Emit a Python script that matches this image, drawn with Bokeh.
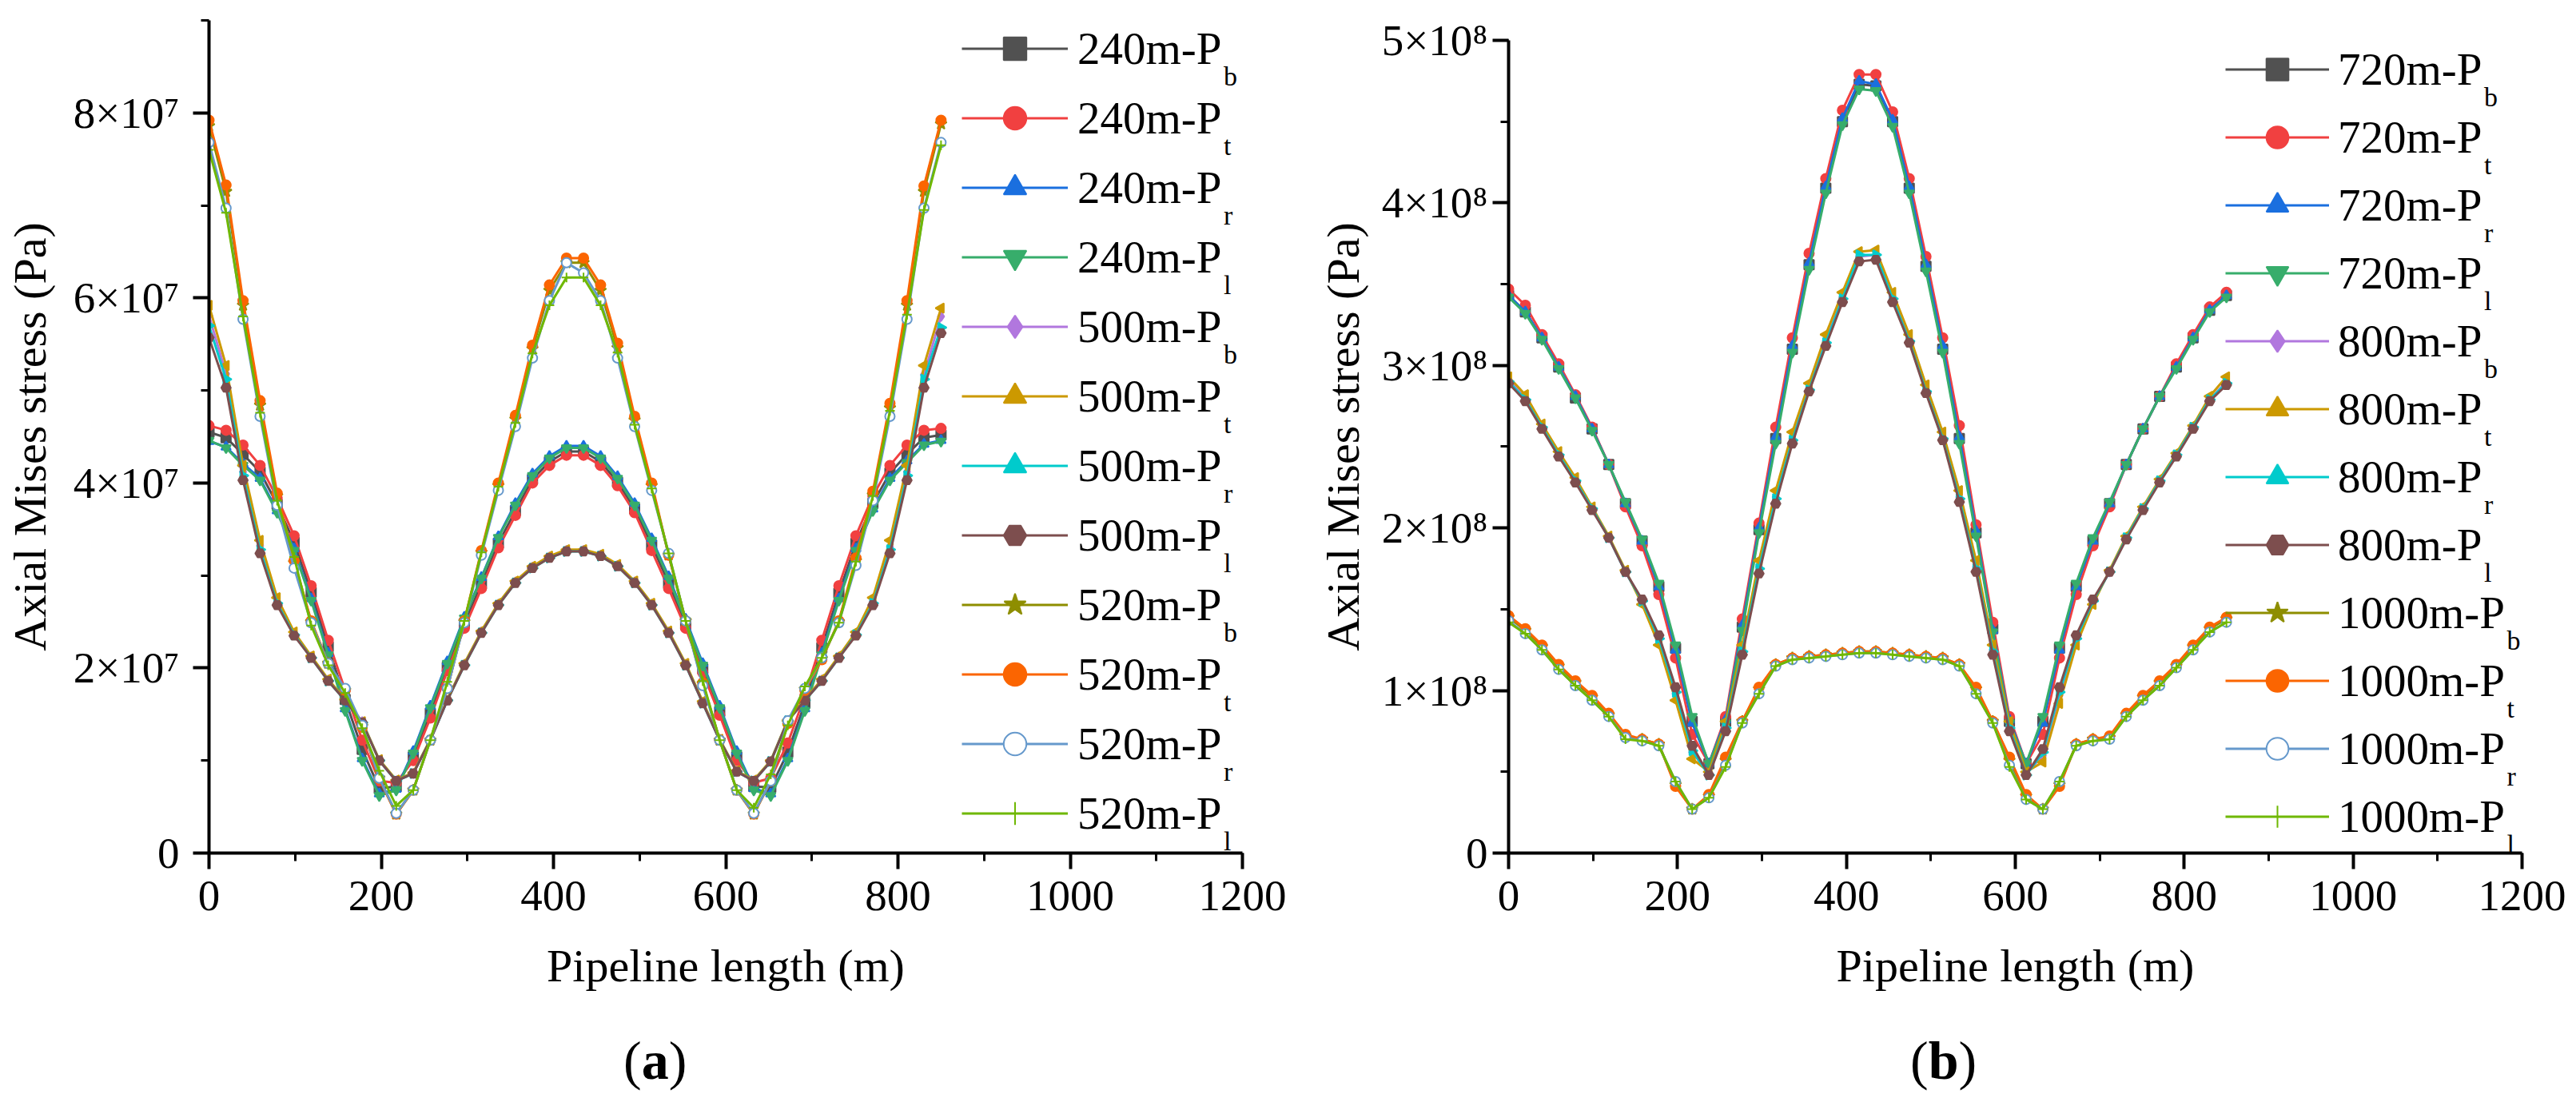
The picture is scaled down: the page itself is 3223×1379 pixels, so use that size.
import numpy as np
from math import pi
from bokeh.plotting import figure
from bokeh.layouts import row, column
from bokeh.models import Range1d, SingleIntervalTicker, Legend, LegendItem, Label, Div
from bokeh.embed import file_html
from bokeh.resources import INLINE

# sample points along the pipeline (m)
x_pos = [0.0, 19.8, 39.5, 59.3, 79.1, 98.8, 118.6, 138.4, 158.1, 177.9, 197.7,
         217.4, 237.2, 257.0, 276.7, 296.5, 316.3, 336.0, 355.8, 375.6, 395.3,
         415.1, 434.9, 454.7, 474.4, 494.2, 514.0, 533.7, 553.5, 573.3, 593.0,
         612.8, 632.6, 652.3, 672.1, 691.9, 711.6, 731.4, 751.2, 770.9, 790.7,
         810.5, 830.2, 850.0]

# ---- panel (a): axial Mises stress, in units of 1e7 Pa ----
a_240_pb = [4.55, 4.49, 4.31, 4.12, 3.77, 3.36, 2.82, 2.23, 1.66, 1.12, 0.70, 0.72, 1.04, 1.51, 2.01,
            2.48, 2.91, 3.35, 3.70, 4.04, 4.23, 4.34, 4.34, 4.23, 4.01, 3.72, 3.33, 2.92, 2.47, 1.99,
            1.53, 1.04, 0.72, 0.71, 1.09, 1.62, 2.22, 2.81, 3.35, 3.78, 4.11, 4.31, 4.49, 4.52]
a_240_pt = [4.62, 4.57, 4.41, 4.19, 3.84, 3.43, 2.89, 2.30, 1.76, 1.22, 0.78, 0.76, 1.00, 1.46, 1.97,
            2.43, 2.86, 3.30, 3.65, 4.00, 4.19, 4.30, 4.30, 4.19, 3.97, 3.68, 3.27, 2.86, 2.43, 1.95,
            1.49, 1.00, 0.76, 0.81, 1.19, 1.70, 2.30, 2.89, 3.43, 3.86, 4.19, 4.41, 4.57, 4.59]
a_240_pr = [4.45, 4.39, 4.21, 4.05, 3.70, 3.29, 2.75, 2.16, 1.56, 1.02, 0.64, 0.69, 1.10, 1.59, 2.07,
            2.55, 2.98, 3.42, 3.78, 4.10, 4.29, 4.40, 4.40, 4.29, 4.07, 3.78, 3.40, 2.99, 2.53, 2.05,
            1.59, 1.10, 0.70, 0.64, 1.02, 1.56, 2.16, 2.75, 3.29, 3.72, 4.05, 4.24, 4.42, 4.46]
a_240_pl = [4.46, 4.38, 4.19, 4.03, 3.68, 3.27, 2.73, 2.14, 1.54, 1.00, 0.62, 0.68, 1.08, 1.57, 2.05,
            2.54, 2.97, 3.41, 3.76, 4.08, 4.27, 4.38, 4.38, 4.27, 4.05, 3.76, 3.38, 2.97, 2.51, 2.03,
            1.57, 1.08, 0.68, 0.62, 1.00, 1.54, 2.14, 2.73, 3.27, 3.70, 4.03, 4.22, 4.41, 4.45]
a_500_pb = [5.81, 5.18, 4.12, 3.32, 2.72, 2.37, 2.12, 1.87, 1.66, 1.42, 1.00, 0.78, 0.86, 1.22, 1.65,
            2.04, 2.39, 2.69, 2.93, 3.09, 3.20, 3.27, 3.27, 3.22, 3.11, 2.93, 2.69, 2.39, 2.04, 1.63,
            1.22, 0.88, 0.78, 0.99, 1.43, 1.66, 1.87, 2.12, 2.37, 2.72, 3.31, 4.12, 5.17, 5.80]
a_500_pt = [5.92, 5.27, 4.19, 3.38, 2.76, 2.39, 2.13, 1.88, 1.66, 1.42, 1.01, 0.79, 0.87, 1.23, 1.66,
            2.05, 2.40, 2.70, 2.94, 3.10, 3.21, 3.28, 3.28, 3.23, 3.12, 2.94, 2.70, 2.40, 2.05, 1.64,
            1.23, 0.89, 0.79, 1.00, 1.44, 1.66, 1.88, 2.13, 2.39, 2.76, 3.38, 4.19, 5.27, 5.89]
a_500_pr = [5.70, 5.12, 4.08, 3.28, 2.70, 2.36, 2.11, 1.86, 1.65, 1.41, 1.00, 0.78, 0.86, 1.22, 1.65,
            2.03, 2.38, 2.68, 2.92, 3.08, 3.19, 3.26, 3.26, 3.21, 3.10, 2.92, 2.68, 2.38, 2.03, 1.62,
            1.22, 0.88, 0.78, 0.99, 1.43, 1.65, 1.86, 2.11, 2.36, 2.70, 3.28, 4.08, 5.12, 5.68]
a_500_pl = [5.57, 5.03, 4.03, 3.24, 2.68, 2.35, 2.11, 1.86, 1.65, 1.41, 1.00, 0.78, 0.86, 1.22, 1.65,
            2.03, 2.38, 2.68, 2.92, 3.08, 3.19, 3.26, 3.26, 3.21, 3.10, 2.92, 2.68, 2.38, 2.03, 1.62,
            1.22, 0.88, 0.78, 0.99, 1.43, 1.65, 1.86, 2.11, 2.35, 2.68, 3.24, 4.03, 5.03, 5.62]
a_520_pb = [7.86, 7.15, 5.92, 4.84, 3.86, 3.14, 2.50, 2.05, 1.76, 1.37, 0.81, 0.42, 0.68, 1.22, 1.78,
            2.50, 3.25, 3.97, 4.69, 5.45, 6.08, 6.38, 6.38, 6.08, 5.46, 4.68, 3.97, 3.22, 2.51, 1.83,
            1.22, 0.68, 0.42, 0.78, 1.41, 1.77, 2.10, 2.50, 3.16, 3.87, 4.81, 5.92, 7.15, 7.88]
a_520_pt = [7.92, 7.22, 5.97, 4.89, 3.89, 3.16, 2.51, 2.05, 1.76, 1.36, 0.80, 0.42, 0.68, 1.22, 1.78,
            2.51, 3.27, 4.00, 4.73, 5.49, 6.14, 6.43, 6.43, 6.14, 5.51, 4.72, 4.00, 3.22, 2.51, 1.84,
            1.22, 0.68, 0.42, 0.78, 1.40, 1.76, 2.09, 2.51, 3.19, 3.91, 4.86, 5.97, 7.21, 7.92]
a_520_pr = [7.68, 6.97, 5.77, 4.72, 3.76, 3.08, 2.49, 2.05, 1.78, 1.38, 0.81, 0.43, 0.68, 1.22, 1.78,
            2.49, 3.22, 3.92, 4.61, 5.35, 5.97, 6.38, 6.27, 5.97, 5.35, 4.61, 3.92, 3.24, 2.51, 1.81,
            1.22, 0.68, 0.43, 0.78, 1.43, 1.78, 2.11, 2.49, 3.11, 3.81, 4.72, 5.77, 6.97, 7.68]
a_520_pl = [7.60, 6.92, 5.80, 4.76, 3.81, 3.20, 2.46, 2.03, 1.73, 1.35, 0.89, 0.51, 0.68, 1.22, 1.85,
            2.51, 3.25, 3.96, 4.65, 5.40, 5.92, 6.22, 6.22, 5.92, 5.41, 4.63, 3.94, 3.24, 2.51, 1.86,
            1.22, 0.68, 0.49, 0.85, 1.38, 1.80, 2.11, 2.49, 3.15, 3.86, 4.78, 5.82, 6.95, 7.65]

# ---- panel (b): axial Mises stress, in units of 1e8 Pa ----
b_720_pb = [3.43, 3.33, 3.17, 2.99, 2.80, 2.61, 2.39, 2.15, 1.92, 1.64, 1.26, 0.81, 0.55, 0.81, 1.39,
            1.99, 2.55, 3.10, 3.62, 4.09, 4.50, 4.73, 4.72, 4.50, 4.09, 3.61, 3.10, 2.55, 1.97, 1.38,
            0.81, 0.55, 0.81, 1.26, 1.64, 1.92, 2.15, 2.39, 2.61, 2.81, 2.99, 3.17, 3.34, 3.43]
b_720_pt = [3.47, 3.37, 3.19, 3.01, 2.82, 2.62, 2.39, 2.13, 1.89, 1.59, 1.20, 0.73, 0.55, 0.84, 1.44,
            2.03, 2.62, 3.17, 3.69, 4.15, 4.57, 4.79, 4.79, 4.56, 4.15, 3.67, 3.17, 2.63, 2.02, 1.42,
            0.84, 0.55, 0.73, 1.20, 1.59, 1.89, 2.13, 2.39, 2.61, 2.81, 3.01, 3.19, 3.36, 3.45]
b_720_pr = [3.43, 3.33, 3.17, 2.99, 2.81, 2.61, 2.39, 2.15, 1.92, 1.64, 1.25, 0.80, 0.55, 0.82, 1.40,
            2.00, 2.56, 3.12, 3.63, 4.10, 4.52, 4.75, 4.73, 4.51, 4.10, 3.62, 3.12, 2.56, 1.98, 1.37,
            0.82, 0.55, 0.80, 1.25, 1.64, 1.92, 2.15, 2.39, 2.61, 2.81, 2.99, 3.17, 3.34, 3.43]
b_720_pl = [3.42, 3.32, 3.16, 2.98, 2.80, 2.60, 2.39, 2.16, 1.93, 1.66, 1.28, 0.84, 0.55, 0.80, 1.37,
            1.97, 2.52, 3.08, 3.59, 4.06, 4.48, 4.70, 4.69, 4.47, 4.06, 3.58, 3.08, 2.52, 1.95, 1.36,
            0.80, 0.55, 0.84, 1.28, 1.66, 1.94, 2.16, 2.39, 2.61, 2.81, 2.98, 3.16, 3.33, 3.42]
b_800_pb = [2.91, 2.80, 2.62, 2.45, 2.29, 2.12, 1.94, 1.73, 1.55, 1.31, 0.98, 0.62, 0.49, 0.78, 1.25,
            1.76, 2.19, 2.55, 2.86, 3.15, 3.42, 3.67, 3.68, 3.42, 3.16, 2.85, 2.56, 2.19, 1.76, 1.25,
            0.78, 0.49, 0.60, 0.97, 1.31, 1.55, 1.73, 1.94, 2.12, 2.29, 2.45, 2.62, 2.79, 2.90]
b_800_pt = [2.93, 2.82, 2.64, 2.47, 2.31, 2.13, 1.95, 1.74, 1.53, 1.28, 0.94, 0.58, 0.50, 0.81, 1.28,
            1.80, 2.23, 2.59, 2.89, 3.19, 3.45, 3.70, 3.71, 3.45, 3.19, 2.88, 2.59, 2.23, 1.80, 1.28,
            0.81, 0.50, 0.56, 0.92, 1.28, 1.53, 1.74, 1.95, 2.13, 2.30, 2.46, 2.63, 2.81, 2.93]
b_800_pr = [2.90, 2.79, 2.62, 2.45, 2.29, 2.12, 1.94, 1.73, 1.55, 1.32, 0.99, 0.63, 0.48, 0.77, 1.24,
            1.75, 2.18, 2.54, 2.85, 3.14, 3.41, 3.68, 3.68, 3.41, 3.15, 2.84, 2.55, 2.18, 1.75, 1.24,
            0.77, 0.48, 0.62, 0.99, 1.32, 1.55, 1.73, 1.94, 2.12, 2.29, 2.45, 2.62, 2.79, 2.89]
b_800_pl = [2.89, 2.78, 2.61, 2.44, 2.28, 2.11, 1.94, 1.73, 1.56, 1.34, 1.02, 0.66, 0.48, 0.75, 1.22,
            1.72, 2.15, 2.52, 2.84, 3.12, 3.39, 3.64, 3.65, 3.39, 3.14, 2.83, 2.54, 2.16, 1.73, 1.22,
            0.75, 0.48, 0.64, 1.02, 1.34, 1.56, 1.73, 1.93, 2.11, 2.28, 2.44, 2.61, 2.78, 2.88]
b_1000_pb = [1.45, 1.37, 1.27, 1.15, 1.05, 0.96, 0.85, 0.72, 0.70, 0.67, 0.42, 0.27, 0.35, 0.57, 0.81,
             1.01, 1.16, 1.20, 1.21, 1.22, 1.23, 1.24, 1.24, 1.23, 1.22, 1.21, 1.20, 1.16, 1.01, 0.81,
             0.57, 0.35, 0.27, 0.42, 0.67, 0.70, 0.71, 0.85, 0.96, 1.05, 1.15, 1.27, 1.38, 1.44]
b_1000_pt = [1.46, 1.38, 1.28, 1.16, 1.06, 0.97, 0.86, 0.73, 0.70, 0.67, 0.41, 0.27, 0.36, 0.59, 0.81,
             1.02, 1.16, 1.20, 1.21, 1.22, 1.23, 1.24, 1.24, 1.23, 1.22, 1.21, 1.20, 1.16, 1.02, 0.81,
             0.59, 0.36, 0.27, 0.41, 0.67, 0.70, 0.72, 0.86, 0.97, 1.06, 1.16, 1.28, 1.39, 1.45]
b_1000_pr = [1.43, 1.35, 1.25, 1.13, 1.03, 0.94, 0.84, 0.71, 0.69, 0.66, 0.44, 0.27, 0.34, 0.54, 0.80,
             0.98, 1.15, 1.19, 1.20, 1.21, 1.22, 1.23, 1.23, 1.22, 1.21, 1.20, 1.19, 1.15, 0.98, 0.80,
             0.54, 0.33, 0.27, 0.44, 0.66, 0.69, 0.70, 0.84, 0.94, 1.03, 1.14, 1.25, 1.36, 1.42]
b_1000_pl = [1.42, 1.35, 1.25, 1.13, 1.03, 0.94, 0.84, 0.70, 0.69, 0.66, 0.44, 0.27, 0.34, 0.53, 0.80,
             0.98, 1.15, 1.19, 1.20, 1.21, 1.22, 1.23, 1.23, 1.22, 1.21, 1.20, 1.19, 1.15, 0.98, 0.80,
             0.53, 0.33, 0.27, 0.44, 0.66, 0.69, 0.70, 0.84, 0.94, 1.03, 1.14, 1.25, 1.36, 1.42]

a_series = [a_240_pb, a_240_pt, a_240_pr, a_240_pl, a_500_pb, a_500_pt, a_500_pr, a_500_pl,
            a_520_pb, a_520_pt, a_520_pr, a_520_pl]
b_series = [b_720_pb, b_720_pt, b_720_pr, b_720_pl, b_800_pb, b_800_pt, b_800_pr, b_800_pl,
            b_1000_pb, b_1000_pt, b_1000_pr, b_1000_pl]
a_names = ["240m-P"] * 4 + ["500m-P"] * 4 + ["520m-P"] * 4
b_names = ["720m-P"] * 4 + ["800m-P"] * 4 + ["1000m-P"] * 4
subs = ["b", "t", "r", "l"] * 3

a_yticks = [0, 20000000, 40000000, 60000000, 80000000]
a_ylabels = ["0", "2×10⁷", "4×10⁷", "6×10⁷", "8×10⁷"]
b_yticks = [0, 100000000, 200000000, 300000000, 400000000, 500000000]
b_ylabels = ["0", "1×10⁸", "2×10⁸", "3×10⁸", "4×10⁸", "5×10⁸"]

# Origin "Bright" palette + marker per series
COLORS = ["#515151", "#F14040", "#1A6FDF", "#37AD6B", "#B177DE", "#CC9900",
          "#00CBCC", "#7D4E4E", "#8E8E00", "#FB6501", "#6699CC", "#6FB802"]
MARKERS = [("square", 0), ("circle", 0), ("triangle", 0), ("inverted_triangle", 0),
           ("diamond", 0), ("triangle", pi / 2), ("triangle", -pi / 2), ("hex", 0),
           ("star", 0), ("circle", 0), ("circle", 0), ("cross", 0)]

FONT = "Liberation Serif"
H = 1290          # plot height, the captions go in a strip below
TOP, BOTTOM = 25, 223   # same frame top/bottom in both panels (row() aligns the frames)
LEG_SIZE = 57
# Times/Liberation Serif advance widths (em)
ADV = {"m": 0.778, "-": 0.333, "P": 0.556}


def text_w(s, size):
    return sum(ADV.get(c, 0.5) for c in s) * size


def make_panel(series, names, unit, y_top, y_axis_end, y_step, yticks, ylabels, width, lr,
               leg, ylab_standoffs):
    left, right = lr
    p = figure(width=width, height=H, x_range=Range1d(0, 1200), y_range=Range1d(0, y_top),
               title=None, output_backend="svg", toolbar_location=None,
               min_border_left=left, min_border_right=right,
               min_border_top=TOP, min_border_bottom=BOTTOM,
               x_axis_label="Pipeline length (m)", y_axis_label="Axial Mises stress (Pa)")
    p.grid.visible = False
    p.outline_line_color = None
    p.xaxis.ticker = SingleIntervalTicker(interval=200, num_minor_ticks=2)
    p.yaxis.ticker = SingleIntervalTicker(interval=y_step, num_minor_ticks=2)
    p.yaxis.bounds = (0, y_axis_end)
    p.yaxis.major_label_overrides = dict(zip(yticks, ylabels))
    for ax in (p.xaxis[0], p.yaxis[0]):
        ax.axis_line_width = 4
        ax.major_tick_line_width = 4
        ax.minor_tick_line_width = 3
        ax.major_tick_out = 20
        ax.major_tick_in = 0
        ax.minor_tick_out = 10
        ax.minor_tick_in = 0
        ax.major_label_text_font = FONT
        ax.major_label_text_font_size = "55px"
        ax.major_label_text_color = "black"
        ax.axis_label_text_font = FONT
        ax.axis_label_text_font_size = "58px"
        ax.axis_label_text_font_style = "normal"
        ax.axis_label_text_color = "black"
    p.xaxis.major_label_standoff = 15
    p.xaxis.axis_label_standoff = 34
    p.yaxis.major_label_standoff = ylab_standoffs[0]
    p.yaxis.axis_label_standoff = ylab_standoffs[1]

    items = []
    for vals, col, (mk, ang) in zip(series, COLORS, MARKERS):
        y = np.array(vals) * unit
        ln = p.line(x_pos, y, line_color=col, line_width=3)
        fill = "white" if col == "#6699CC" else col
        size = 15 if mk == "star" else 12
        sc = p.scatter(x_pos, y, marker=mk, angle=ang, size=size, fill_color=fill,
                       line_color=col, line_width=2)
        items.append([ln, sc])

    # legend inside the frame, rows laid out from the top
    frame_h = H - TOP - BOTTOM
    lx, ltop, gw, gh, sp, stand = leg
    n = len(names)
    lh = n * gh + (n - 1) * sp
    legend = Legend(items=[LegendItem(label=nm, renderers=r) for nm, r in zip(names, items)],
                    location=(lx, frame_h - ltop - lh), glyph_width=gw, glyph_height=gh,
                    label_height=gh, spacing=sp, padding=0, margin=0, label_standoff=stand,
                    border_line_color=None, background_fill_alpha=0,
                    label_text_font=FONT, label_text_font_size=f"{LEG_SIZE}px",
                    label_text_color="black")
    p.add_layout(legend)
    # subscripts b / t / r / l after each legend label
    tx = lx + gw + stand
    for k, (nm, sb) in enumerate(zip(names, subs)):
        yc = frame_h - (ltop + k * (gh + sp) + gh / 2)
        p.add_layout(Label(x=tx + text_w(nm, LEG_SIZE) + 2, y=yc - 34,
                           x_units="screen", y_units="screen",
                           text=sb, text_font=FONT, text_font_size="34px", text_color="black",
                           text_baseline="alphabetic"))
    return p


def caption(letter, width, pad):
    html = (f'<div style="padding-left:{pad}px; padding-top:3px; font-family:\'{FONT}\'; '
            f'font-size:68px; line-height:68px; color:black; white-space:nowrap">'
            f'(<b>{letter}</b>)</div>')
    return Div(text=html, width=width, height=84, margin=0)


# panel (b): the axis stops at 5e8, the frame reaches a little higher (empty space in the original)
pa = make_panel(a_series, a_names, 1e7, 90000000, 90000000, 20000000, a_yticks, a_ylabels,
                1612, (261, 58), (942, 0, 133, 71, 16, 12), (17, 19))
pb = make_panel(b_series, b_names, 1e8, 512291000, 500000000, 100000000, b_yticks, b_ylabels,
                1610, (275, 67), (897, 27, 130, 69, 16, 11), (6, 13))

layout = column(row(pa, pb), row(caption("a", 1612, 780), caption("b", 1610, 778)))
open("out.html", "w").write(file_html(layout, INLINE))
